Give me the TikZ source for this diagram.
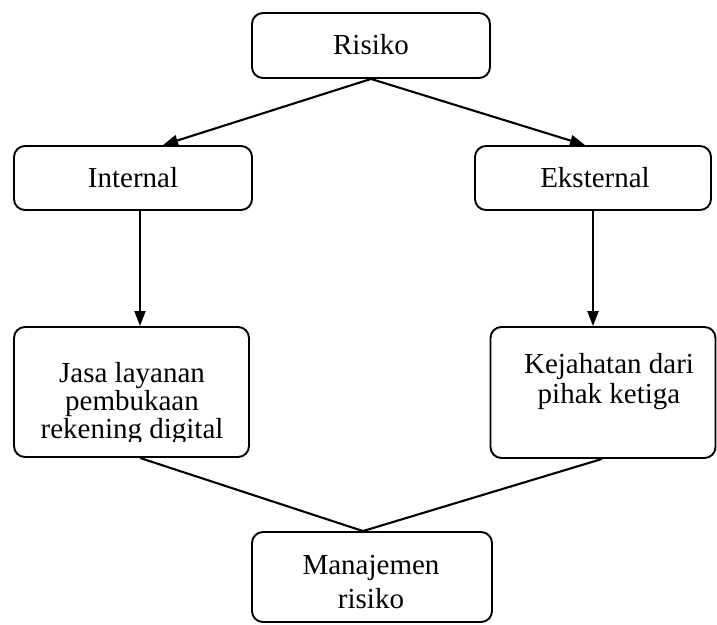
\documentclass[tikz,border=0pt]{standalone}
\usepackage{fontspec}
\setmainfont{Liberation Serif}
\usetikzlibrary{arrows.meta}
\begin{document}
\begin{tikzpicture}[x=1pt,y=-1pt,
  box/.style={draw, line width=1.9pt, rounded corners=11pt, inner sep=0pt},
  lbl/.style={anchor=base, inner sep=0pt, font=\fontsize{29}{30}\selectfont},
  conn/.style={line width=2.1pt},
  arr/.style={conn, -{Triangle[length=15pt,width=11pt]}}]
\useasboundingbox (0,0) rectangle (717,624);
% boxes
\node[box, minimum width=238pt, minimum height=65pt] (risiko) at (371,45.5) {};
\node[box, minimum width=238pt, minimum height=64pt] (internal) at (133,178) {};
\node[box, minimum width=236pt, minimum height=64pt] (eksternal) at (593,178) {};
\node[box, minimum width=235pt, minimum height=130pt] (jasa) at (131.5,392) {};
\node[box, minimum width=225pt, minimum height=131pt] (kejahatan) at (603,392.5) {};
\node[box, minimum width=240pt, minimum height=90pt] (manaj) at (372,577) {};
% texts
\node[lbl] (trisiko) at (371,54) {Risiko};
\node[lbl] (tinternal) at (133,187) {Internal};
\node[lbl] (teksternal) at (595,187) {Eksternal};
\node[lbl] (tjasa1) at (132,382) {Jasa layanan};
\node[lbl] (tjasa2) at (132,410) {pembukaan};
\begin{scope}
\clip (0,0) rectangle (717,441);
\node[lbl] (tjasa3) at (132,438) {rekening digital};
\end{scope}
\node[lbl] (tkej1) at (609,373) {Kejahatan dari};
\node[lbl] (tkej2) at (609,403) {pihak ketiga};
\node[lbl] (tman1) at (371,574) {Manajemen};
\node[lbl] (tman2) at (371,608) {risiko};
% connectors
\draw[arr] (risiko.south) -- ([xshift=30pt]internal.north);
\draw[arr] (risiko.south) -- ([xshift=-8pt]eksternal.north);
\draw[arr] ([xshift=7pt]internal.south) -- ([xshift=8.5pt]jasa.north);
\draw[arr] (eksternal.south) -- ([xshift=-10pt]kejahatan.north);
\draw[conn] ([xshift=8.5pt]jasa.south) -- ([xshift=-9pt]manaj.north);
\draw[conn] ([xshift=-1pt]kejahatan.south) -- ([xshift=-9pt]manaj.north);
\end{tikzpicture}
\end{document}
